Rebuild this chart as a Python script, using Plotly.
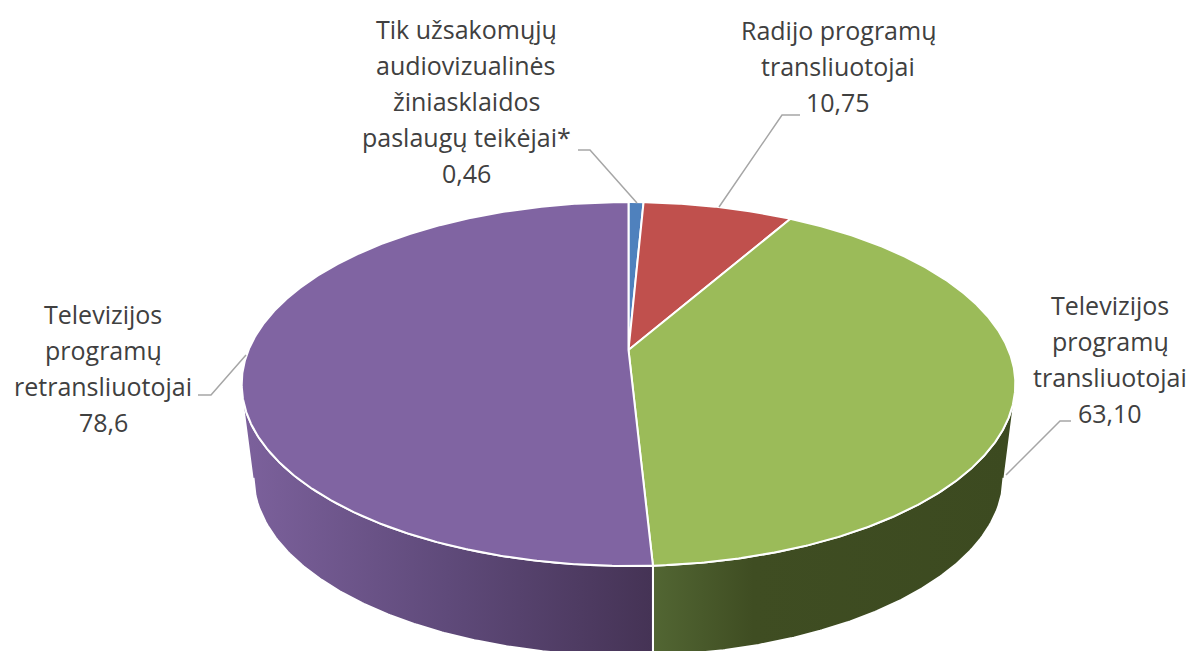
import numpy as np
import plotly.graph_objects as go

categories = ["Tik užsakomųjų audiovizualinės žiniasklaidos paslaugų teikėjai*",
              "Radijo programų transliuotojai",
              "Televizijos programų transliuotojai",
              "Televizijos programų retransliuotojai"]
value_labels = ["0,46", "10,75", "63,10", "78,6"]
# slice sweep as it is drawn in the picture (degrees, clockwise from the top)
slice_degrees = [2.7, 27.0, 147.3, 183.0]
top_colors = ["#4F81BD", "#C0504D", "#9BBB59", "#8064A2"]

label_lines = [
    ["Tik užsakomųjų", "audiovizualinės", "žiniasklaidos", "paslaugų teikėjai*", "0,46"],
    ["Radijo programų", "transliuotojai", "10,75"],
    ["Televizijos", "programų", "transliuotojai", "63,10"],
    ["Televizijos", "programų", "retransliuotojai", "78,6"],
]
label_layout = [(466, 29), (838, 30), (1110, 305), (103, 314)]
leaders = [
    ([578, 590, 637], [150, 150, 203]),
    ([800, 782, 719], [115, 115, 207]),
    ([1071, 1060, 1006], [421, 421, 475]),
    ([198, 211, 246], [395, 395, 355]),
]

W, H = 1192, 651
CX, CY, RX, RY, PERSP = 628.5, 350.0, 380.0, 175.6, 0.187
BCX, BCY, BRX, BRY = 628.5, 477.0, 375.0, 179.0


def rim(deg):
    t = np.radians(deg)
    X, Y = np.sin(t), np.cos(t)
    d = 1 + PERSP * Y
    return CX + RX * X / d, CY - RY * Y / d


edges = np.concatenate([[0], np.cumsum(slice_degrees)])
seam = edges[3]
fig = go.Figure()


def wall(t0, t1, colors, start, stop):
    tt = np.linspace(t0, t1, 160)
    x1, y1 = rim(tt)
    sign = np.sign(x1[0] - x1[-1])
    xb = np.linspace(x1[-1], BCX + sign * BRX * 0.99999, 200)
    yb = BCY + BRY * np.sqrt(np.clip(1 - ((xb - BCX) / BRX) ** 2, 0, 1))
    fig.add_trace(go.Scatter(
        x=np.concatenate([x1, xb]), y=np.concatenate([y1, yb]),
        mode="lines", fill="toself",
        line=dict(color="white", width=2),
        fillgradient=dict(type="horizontal", colorscale=colors, start=start, stop=stop),
        hoverinfo="skip", showlegend=False))


wall(107.0, seam, [[0, "#3C4A20"], [0.72, "#3F4D22"], [1, "#526633"]], 1012, 653)
wall(253.5, seam, [[0, "#7C619C"], [0.5, "#5F4A7A"], [1, "#453355"]], 243, 652)

for i, c in enumerate(top_colors):
    tt = np.linspace(edges[i], edges[i + 1], max(6, int(slice_degrees[i] * 3)))
    x, y = rim(tt)
    fig.add_trace(go.Scatter(
        x=np.concatenate([[CX], x, [CX]]), y=np.concatenate([[CY], y, [CY]]),
        mode="lines", fill="toself", fillcolor=c,
        line=dict(color="white", width=2),
        name=categories[i], hoverinfo="name", showlegend=False))

for lx, ly in leaders:
    fig.add_trace(go.Scatter(x=lx, y=ly, mode="lines",
                             line=dict(color="#A6A6A6", width=1.5),
                             hoverinfo="skip", showlegend=False))

LINE = 36
annotations = []
for lines, (ax, ay) in zip(label_lines, label_layout):
    for j, s in enumerate(lines):
        annotations.append(dict(x=ax, y=ay + j * LINE, text=s, showarrow=False,
                                xref="x", yref="y", xanchor="center", yanchor="middle",
                                font=dict(family="Open Sans", size=25, color="#404040")))

fig.update_layout(
    width=W, height=H, margin=dict(l=0, r=0, t=0, b=0),
    paper_bgcolor="white", plot_bgcolor="white", annotations=annotations,
    xaxis=dict(range=[0, W], visible=False, fixedrange=True),
    yaxis=dict(range=[H, 0], visible=False, fixedrange=True),
)
fig.write_html("out.html", config=dict(displayModeBar=False),
               post_script="document.body.style.margin='0';document.body.style.overflow='hidden';")
